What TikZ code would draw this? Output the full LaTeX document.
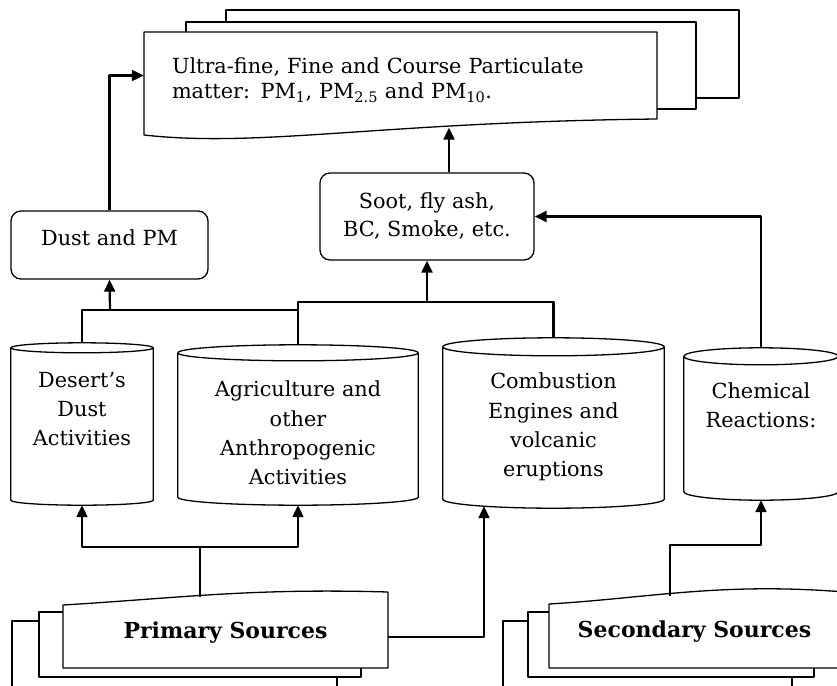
\documentclass[tikz,border=0pt]{standalone}
\usepackage{fontspec}
\setmainfont{DejaVu Serif}
\usepackage{tikz}
\usetikzlibrary{arrows.meta}
\usetikzlibrary{calc}

\newcommand{\drum}[2]{%
  \draw[shell] let \p1=(#1.north west), \p2=(#1.south east), \n1={(\x2-\x1)/2} in
    ({\x1},{\y1-#2pt}) -- ({\x1},{\y2+#2pt})
    arc[start angle=180, end angle=360, x radius=\n1, y radius=#2pt] -- ({\x2},{\y1-#2pt})
    ({\x1+\n1},{\y1-#2pt}) ellipse[x radius=\n1, y radius=#2pt];}

\begin{document}
\begin{tikzpicture}[x=1pt, y=-1pt, line join=round,
  txt/.style={font=\fontsize{20.8}{28}\selectfont, align=center},
  boldtxt/.style={font=\fontsize{22}{28}\selectfont\bfseries, align=center},
  box/.style={draw, line width=1.3, rounded corners=10, txt},
  tank/.style={inner sep=0},
  tanktxt/.style={font=\fontsize{20.8}{29.3}\selectfont, align=center},
  sheet/.style={draw, line width=1.3, fill=white},
  shell/.style={draw, line width=1.3},
  link/.style={line width=2.2},
  flow/.style={link, -{Triangle[length=12pt,width=11pt]}}]
 \useasboundingbox (0,0) rectangle (837,685);

 \draw[sheet] (226,10) -- (739,10) -- (739,98) -- (226,98) -- cycle;
 \draw[sheet] (186,22) -- (696,22) -- (696,109) -- (186,109) -- cycle;
 \draw[sheet] (144,32) -- (657,32) -- (657,119) .. controls (380,122) and (260,148) .. (144,135) -- cycle;
 \node[inner sep=0, minimum width=513, minimum height=95, text width=457, align=left,
   font=\fontsize{20.8}{25.5}\selectfont] (ultra) at (400.5,80)
   {Ultra-fine, Fine and Course Particulate\\matter: PM\textsubscript{1}, PM\textsubscript{2.5} and PM\textsubscript{10}.};

 \draw[sheet] (12,621) -- (337,621) -- (337,700) -- (12,700) -- cycle;
 \draw[sheet] (39,612) -- (361,612) -- (361,677) -- (39,677) -- cycle;
 \draw[sheet] (63,605) .. controls (180,598) and (250,588) .. (388,592) -- (388,668) -- (63,668) -- cycle;
 \node[inner sep=0, minimum width=325, minimum height=71, boldtxt]
   (primary) at (225.5,632.5) {Primary Sources};

 \draw[sheet] (503,621) -- (792,621) -- (792,700) -- (503,700) -- cycle;
 \draw[sheet] (528,612) -- (814,612) -- (814,677) -- (528,677) -- cycle;
 \draw[sheet] (549,604) .. controls (650,598) and (720,582) .. (845,592) -- (845,668) -- (549,668) -- cycle;
 \node[inner sep=0, minimum width=291, minimum height=72, boldtxt]
   (secsrc) at (694.5,632) {Secondary Sources};

 \node[box, minimum width=197, inner ysep=0, text height=34, text depth=34] (dust) at (109.5,245) {Dust and PM};
 \node[box, minimum width=214, minimum height=87] (soot) at (427,216.5) {Soot, fly ash,\\BC, Smoke, etc.};

 \node[tank, minimum width=142, minimum height=162,
   label={[tanktxt, yshift=15]center:{Desert’s\\Dust\\Activities}}] (desert) at (82,424) {};
 \node[tank, minimum width=240, minimum height=160,
   label={[tanktxt, yshift=-8]center:{Agriculture and\\other\\Anthropogenic\\Activities}}] (agri) at (298,425) {};
 \node[tank, minimum width=221, minimum height=170,
   label={[tanktxt, yshift=-4]center:{Combustion\\Engines and\\volcanic\\eruptions}}] (combust) at (553.5,423) {};
 \node[tank, minimum width=154, minimum height=152,
   label={[tanktxt, yshift=19]center:{Chemical\\Reactions:}}] (chem) at (761,424) {};
 \drum{desert}{5}
 \drum{agri}{8}
 \drum{combust}{9}
 \drum{chem}{8.5}

 \coordinate (pjoin) at (200,547);
 \coordinate (djoin) at (110,310);
 \coordinate (sjoin) at (427,302);
 \coordinate (cjoin) at (670,545);

 \draw[link] (primary.north -| pjoin) -- (pjoin);
 \draw[flow] (pjoin) -| (desert.south);
 \draw[flow] (pjoin) -| (agri.south);
 \draw[flow] ([yshift=-4.5]primary.east) -| ([xshift=-69.5,yshift=2]combust.south);
 \draw[link] (desert.north) |- (djoin) -- (djoin -| agri.north);
 \draw[flow] (djoin) -- (dust.south);
 \draw[link] (agri.north) |- (sjoin);
 \draw[link] (combust.north) |- (sjoin);
 \draw[flow] (sjoin) -- (soot.south);
 \draw[flow] (dust.north) |- ([yshift=4.5]ultra.west);
 \draw[flow] ([xshift=22]soot.north) -- ([xshift=22]soot.north |- ultra.south);
 \draw[flow] (chem.north) |- (soot.east);
 \draw[flow] (secsrc.north -| cjoin) -- (cjoin) -| (chem.south);
\end{tikzpicture}
\end{document}
